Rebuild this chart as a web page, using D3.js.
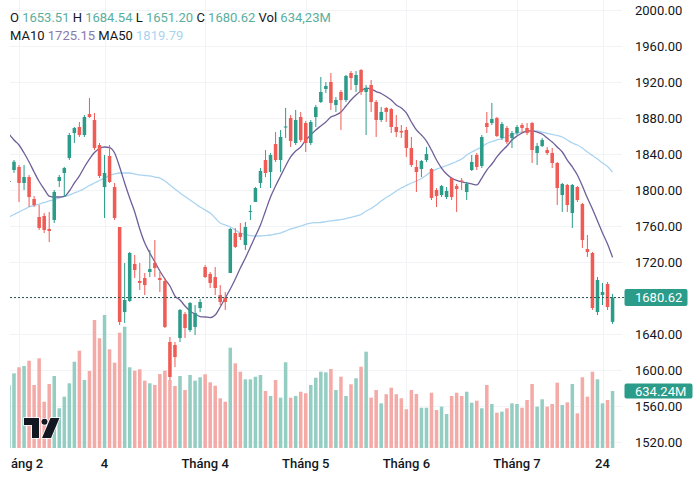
<!DOCTYPE html>
<html><head><meta charset="utf-8">
<script src="https://cdn.jsdelivr.net/npm/d3@7"></script>
<style>html,body{margin:0;padding:0;background:#fff;}svg{display:block;font-family:Roboto,"Noto Sans",sans-serif;}</style>
</head><body><svg id="c" width="700" height="481"></svg>
<script>
const opens=[1809.5,1822.2,1825.6,1807.8,1814.4,1790.0,1770.0,1771.1,1756.7,1766.7,1810.0,1818.9,1835.6,1863.3,1870.0,1861.1,1884.4,1877.8,1850.0,1803.3,1837.8,1803.3,1758.9,1664.4,1676.7,1717.8,1698.9,1702.2,1708.9,1718.9,1702.2,1698.9,1631.1,1627.8,1635.6,1662.2,1644.4,1647.8,1668.9,1714.4,1706.7,1703.3,1683.3,1680.0,1707.8,1752.2,1752.2,1738.9,1775.6,1786.7,1807.8,1833.3,1820.0,1851.1,1833.3,1869.4,1880.0,1852.2,1881.1,1874.4,1852.2,1881.1,1897.8,1912.2,1920.0,1894.4,1908.9,1900.0,1930.0,1916.7,1933.3,1908.9,1916.7,1897.8,1877.8,1891.1,1890.0,1870.0,1865.6,1866.7,1846.7,1825.6,1823.3,1833.3,1823.3,1800.0,1794.4,1792.2,1813.3,1804.4,1810.6,1797.8,1822.2,1838.9,1826.7,1874.4,1874.4,1880.0,1857.8,1868.9,1857.8,1863.3,1872.2,1868.9,1874.4,1841.1,1848.9,1844.4,1841.1,1830.0,1794.4,1805.6,1774.4,1803.3,1784.4,1734.4,1730.0,1664.4,1683.3,1695.6,1653.51];
const highs=[1815.6,1833.3,1827.8,1827.8,1816.7,1793.3,1783.3,1774.4,1775.6,1800.0,1816.7,1825.6,1863.3,1870.0,1875.6,1883.3,1902.2,1885.6,1852.2,1838.9,1850.0,1807.8,1758.9,1718.9,1731.1,1727.8,1718.9,1707.8,1733.3,1744.4,1708.9,1702.2,1636.7,1631.1,1667.8,1664.4,1675.5,1672.2,1678.9,1716.7,1708.9,1714.4,1694.4,1686.7,1757.8,1757.8,1763.3,1764.4,1783.3,1803.3,1824.4,1844.4,1841.1,1864.4,1866.7,1891.1,1883.3,1888.9,1886.7,1876.7,1877.8,1894.4,1925.6,1920.0,1930.0,1903.3,1911.1,1927.8,1932.2,1932.2,1934.4,1916.7,1922.2,1900.0,1892.2,1892.2,1891.1,1883.3,1872.2,1870.0,1858.9,1833.3,1833.3,1847.8,1824.4,1802.2,1805.6,1803.3,1814.4,1806.7,1813.3,1808.9,1838.9,1841.1,1861.1,1886.7,1896.7,1881.1,1875.6,1871.1,1865.6,1872.2,1874.4,1874.4,1875.6,1852.2,1857.8,1847.8,1846.7,1831.1,1807.8,1806.7,1806.7,1804.4,1785.6,1750.0,1731.1,1703.3,1696.7,1697.8,1684.54];
const lows=[1803.3,1819.0,1786.7,1800.0,1781.1,1781.1,1755.6,1752.2,1742.2,1763.3,1803.3,1792.2,1833.3,1852.2,1858.9,1858.9,1880.0,1844.4,1813.3,1768.9,1807.8,1766.7,1650.0,1652.2,1675.6,1702.2,1688.9,1683.3,1703.3,1703.3,1686.7,1646.7,1588.9,1603.3,1631.1,1635.6,1642.2,1638.9,1664.4,1702.2,1691.1,1683.3,1672.2,1666.7,1707.8,1735.6,1744.4,1733.3,1766.7,1786.7,1802.2,1814.4,1802.2,1831.1,1820.0,1857.8,1847.8,1850.0,1853.3,1842.2,1850.0,1870.0,1896.7,1907.8,1888.9,1886.7,1866.7,1897.8,1911.1,1908.9,1905.6,1861.1,1886.7,1858.9,1875.6,1875.6,1863.3,1858.9,1857.8,1836.7,1825.6,1797.8,1814.4,1831.1,1788.9,1781.1,1792.2,1790.0,1788.9,1775.6,1800.0,1788.9,1821.1,1822.2,1824.4,1863.3,1872.2,1858.9,1855.6,1851.1,1846.7,1861.1,1863.3,1861.1,1830.0,1827.8,1847.8,1838.9,1824.4,1783.3,1775.6,1775.6,1757.8,1786.7,1735.6,1725.6,1666.7,1661.1,1672.2,1666.7,1651.20];
const closes=[1810.0,1831.4,1807.8,1814.4,1792.2,1783.3,1757.8,1755.6,1754.4,1797.8,1814.4,1824.4,1861.1,1868.9,1861.1,1881.1,1881.1,1846.7,1815.6,1818.9,1808.9,1768.9,1653.3,1677.8,1730.0,1711.1,1696.7,1694.4,1712.2,1713.3,1700.0,1647.8,1592.2,1614.4,1666.7,1646.7,1674.4,1663.3,1675.6,1703.3,1696.7,1691.1,1675.6,1675.6,1756.7,1736.7,1747.8,1758.9,1776.7,1802.2,1821.1,1818.9,1838.9,1833.3,1858.9,1870.6,1854.4,1877.8,1855.6,1852.2,1875.6,1892.2,1908.9,1915.6,1896.7,1900.0,1900.0,1926.7,1924.4,1927.8,1908.9,1913.3,1897.8,1877.8,1886.7,1886.7,1870.0,1864.4,1863.9,1846.7,1827.8,1820.0,1832.2,1840.0,1791.1,1793.3,1804.4,1798.9,1792.2,1801.1,1809.4,1806.7,1831.1,1825.6,1858.9,1870.0,1878.9,1860.0,1873.3,1853.3,1863.3,1870.0,1868.9,1863.3,1844.4,1848.9,1855.6,1841.1,1830.0,1802.2,1806.7,1783.3,1805.6,1788.9,1744.4,1731.1,1668.9,1700.0,1686.7,1670.0,1680.62];
const volumes=[700,831,898,912,971,701,998,515,712,801,442,571,720,960,1083,757,857,1424,1221,1480,1098,949,1283,1350,898,860,876,749,720,701,823,860,757,690,801,645,812,749,787,820,731,693,553,515,1116,942,849,764,764,793,812,634,579,757,560,954,560,579,626,609,701,782,849,842,879,645,793,579,709,776,905,1072,560,645,497,598,671,598,553,431,645,601,448,448,615,423,460,378,579,615,579,626,504,526,442,701,490,393,404,442,497,490,448,534,712,460,542,460,490,727,478,508,712,386,787,571,849,764,497,534,634.24];
const ma10=[1862.2,1855.6,1850.0,1841.1,1831.1,1820.0,1809.4,1801.1,1793.3,1792.2,1792.2,1792.8,1798.9,1807.8,1815.6,1825.6,1834.4,1841.7,1846.1,1847.8,1847.2,1841.1,1825.6,1807.8,1791.1,1775.6,1756.7,1741.1,1730.0,1720.0,1710.0,1701.1,1693.3,1682.2,1677.8,1671.1,1665.6,1662.2,1659.4,1658.9,1658.3,1661.1,1670.0,1680.0,1690.0,1701.1,1713.3,1724.4,1736.7,1748.9,1761.1,1776.7,1792.2,1804.4,1815.6,1826.7,1836.7,1843.3,1847.8,1855.6,1861.1,1866.7,1871.1,1875.6,1881.1,1883.3,1886.7,1893.3,1900.0,1905.6,1910.0,1913.3,1912.2,1909.4,1907.2,1903.9,1900.0,1894.4,1891.1,1885.6,1875.6,1866.7,1861.1,1854.4,1844.4,1833.3,1824.4,1817.8,1813.3,1810.6,1808.9,1807.8,1806.7,1805.6,1813.3,1822.2,1828.9,1836.7,1843.3,1848.9,1855.6,1860.0,1863.3,1865.6,1865.6,1864.4,1862.2,1857.8,1853.3,1847.8,1842.2,1833.3,1825.6,1816.7,1804.4,1791.1,1778.9,1765.6,1752.2,1740.0,1725.15];
const ma50=[1770.0,1772.8,1775.6,1778.3,1781.1,1782.8,1784.4,1786.1,1787.8,1789.4,1791.1,1792.8,1794.2,1796.7,1798.9,1801.7,1805.0,1807.8,1810.6,1813.3,1816.1,1817.8,1818.9,1818.9,1818.9,1817.8,1816.7,1816.1,1815.6,1814.4,1813.3,1810.0,1805.6,1801.1,1796.7,1792.8,1788.9,1785.0,1781.1,1777.8,1774.4,1768.9,1763.3,1761.1,1758.9,1755.6,1752.2,1750.6,1749.4,1748.9,1748.9,1749.4,1750.0,1751.1,1752.2,1754.4,1756.7,1758.3,1760.0,1761.7,1763.3,1763.7,1763.9,1764.8,1765.6,1766.4,1767.2,1768.3,1769.7,1771.1,1772.8,1776.7,1779.4,1783.3,1787.8,1791.7,1795.0,1798.9,1802.2,1805.0,1807.8,1810.0,1812.8,1816.7,1820.6,1823.3,1825.0,1827.2,1829.4,1831.7,1834.4,1838.9,1842.2,1845.0,1847.8,1851.7,1853.9,1855.6,1857.2,1859.4,1861.7,1863.3,1864.4,1865.0,1865.3,1865.6,1864.4,1862.8,1861.7,1860.6,1858.9,1855.6,1852.2,1850.0,1846.7,1842.2,1838.3,1834.4,1830.0,1826.1,1819.79];
const priceTicks=[2000,1960,1920,1880,1840,1800,1760,1720,1680,1640,1600,1560,1520];
const timeTickIdx=[2,19,39,59,79,101,118];
const timeTickLabels=["áng 2","4","Tháng 4","Tháng 5","Tháng 6","Tháng 7","24"];
const volLegend="634,23M";

const UP="#2b9c89",DOWN="#ef5b55",UPV="#94cdc2",DOWNV="#f4aaa6";
const MA10C="#6f5f99",MA10T="#8979ad",MA50C="#a9d4f0",TXT="#131722";
const n=closes.length;
const svg=d3.select("#c");
const x=d3.scaleBand().domain(d3.range(n)).range([6.455,6.455+n*5.03]).paddingInner(0.3).paddingOuter(0.15);
const bw=x.bandwidth();
const cx=i=>x(i)+bw/2;
const y=d3.scaleLinear().domain([1520,2000]).range([442,10]);
const yv=d3.scaleLinear().domain([0,634.24]).range([448,391]);
const isUp=i=>closes[i]>=opens[i];

const defs=svg.append("defs");
defs.append("clipPath").attr("id","plot").append("rect").attr("x",10).attr("y",0).attr("width",612).attr("height",448);

// grid
const grid=svg.append("g").attr("clip-path","url(#plot)");
grid.selectAll("line.h").data(priceTicks).join("line").attr("x1",10).attr("x2",622)
  .attr("y1",d=>Math.round(y(d))+0.5).attr("y2",d=>Math.round(y(d))+0.5).attr("stroke","#f2f3f6");
grid.selectAll("line.v").data(timeTickIdx).join("line").attr("y1",0).attr("y2",448)
  .attr("x1",d=>Math.round(cx(d))+0.5).attr("x2",d=>Math.round(cx(d))+0.5).attr("stroke","#f2f3f6");

const plot=svg.append("g").attr("clip-path","url(#plot)");
// volume
plot.append("g").selectAll("rect").data(volumes).join("rect")
  .attr("x",(d,i)=>x(i)).attr("width",bw).attr("y",d=>yv(d)).attr("height",d=>448-yv(d))
  .attr("fill",(d,i)=>isUp(i)?UPV:DOWNV);

// TradingView logo
const logo=svg.append("g").attr("fill","#131722").attr("stroke","#fff").attr("stroke-width",1.5).attr("paint-order","stroke");
logo.append("path").attr("d","M24,418 H39 V438 H32 V425 H24 Z");
logo.append("circle").attr("cx",44.5).attr("cy",421.8).attr("r",3);
logo.append("path").attr("d","M50.5,418 H59.5 L51,438 H42 Z");

// MA lines
const line=d3.line().x((d,i)=>cx(i)).y(d=>y(d)).curve(d3.curveMonotoneX);
plot.append("path").datum(ma50).attr("d",line).attr("fill","none").attr("stroke",MA50C).attr("stroke-width",1.3);
plot.append("path").datum(ma10).attr("d",line).attr("fill","none").attr("stroke",MA10C).attr("stroke-width",1.3);

// candles
const cg=plot.append("g");
cg.selectAll("line").data(closes).join("line")
  .attr("x1",(d,i)=>cx(i)).attr("x2",(d,i)=>cx(i))
  .attr("y1",(d,i)=>y(highs[i])).attr("y2",(d,i)=>y(lows[i]))
  .attr("stroke",(d,i)=>isUp(i)?UP:DOWN).attr("stroke-width",1);
cg.selectAll("rect").data(closes).join("rect")
  .attr("x",(d,i)=>x(i)).attr("width",bw)
  .attr("y",(d,i)=>y(Math.max(opens[i],closes[i])))
  .attr("height",(d,i)=>Math.max(1,Math.abs(y(opens[i])-y(closes[i]))))
  .attr("fill",(d,i)=>isUp(i)?UP:DOWN);

// last price line
const last=closes[n-1];
svg.append("line").attr("x1",10).attr("x2",624).attr("y1",Math.round(y(last))+0.5).attr("y2",Math.round(y(last))+0.5)
  .attr("stroke","#2f5a54").attr("stroke-width",1).attr("stroke-dasharray","2,2");

// right axis
const ya=svg.append("g").attr("transform","translate(622,0)")
  .call(d3.axisRight(y).tickValues(priceTicks).tickFormat(d3.format(".2f")).tickSize(0).tickPadding(13));
ya.select(".domain").remove();
ya.selectAll("text").attr("font-size",13).attr("fill",TXT).attr("font-family","Roboto");

// bottom axis
const xa=svg.append("g").attr("transform","translate(0,448)")
  .call(d3.axisBottom(x).tickValues(timeTickIdx).tickFormat(d=>timeTickLabels[timeTickIdx.indexOf(d)]).tickSize(0).tickPadding(11));
xa.select(".domain").remove();
xa.selectAll("text").attr("font-size",13).attr("font-weight",500).attr("fill",TXT).attr("font-family","Roboto");
// first label is shown cut at the pane edge in the reference: left-align it at the pane edge
xa.selectAll(".tick").filter((d,k)=>k===0).select("text")
  .attr("text-anchor","start").attr("x",11-cx(timeTickIdx[0]));

// price label boxes
const fmt=d3.format(".2f");
const pl=svg.append("g");
pl.append("rect").attr("x",624.5).attr("y",y(last)-8.5).attr("width",63).attr("height",17).attr("rx",2).attr("fill",UP);
pl.append("text").attr("x",635).attr("y",y(last)+4.6).attr("font-size",13).attr("fill","#fff").text(fmt(last));
const lv=volumes[n-1];
pl.append("rect").attr("x",624.5).attr("y",yv(lv)-7.5).attr("width",68).attr("height",15).attr("rx",2).attr("fill",UP);
pl.append("text").attr("x",635).attr("y",yv(lv)+4.6).attr("font-size",13).attr("fill","#fff").text(fmt(lv)+"M");

// legend
const VAL="#5aae9e";
const l1=svg.append("text").attr("x",10).attr("y",21.6).attr("font-size",13).attr("fill",TXT);
[["O",opens[n-1]],["H",highs[n-1]],["L",lows[n-1]],["C",closes[n-1]]].forEach((p,k)=>{
  l1.append("tspan").text((k?" ":"")+p[0]+" ");
  l1.append("tspan").attr("fill",VAL).text(fmt(p[1]));
});
l1.append("tspan").text(" Vol ");
l1.append("tspan").attr("fill",VAL).text(volLegend);
const l2=svg.append("text").attr("x",10).attr("y",39.6).attr("font-size",13).attr("fill",TXT);
l2.append("tspan").text("MA10 ");
l2.append("tspan").attr("fill",MA10T).text(fmt(ma10[n-1]));
l2.append("tspan").text(" MA50 ");
l2.append("tspan").attr("fill",MA50C).text(fmt(ma50[n-1]));
</script></body></html>
